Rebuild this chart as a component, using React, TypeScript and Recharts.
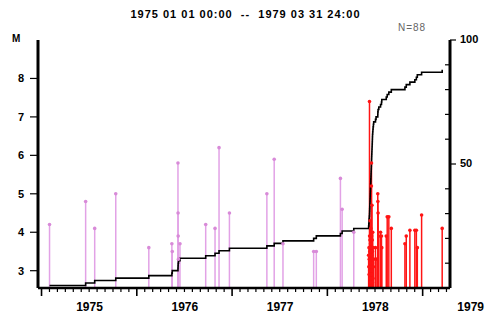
import { ComposedChart, Scatter, Line, XAxis, YAxis, ErrorBar } from "recharts"

const title = "1975 01 01 00:00  --  1979 03 31 24:00"
const countLabel = "N=88"
const magLabel = "M"

const yearTicks = [1975, 1976, 1977, 1978, 1979]
const magTicks = [3, 4, 5, 6, 7, 8]
const countTicks = [10, 20, 30, 40, 50, 60, 70, 80, 90, 100]
const countLabels = [50, 100]

// events before the swarm (decimal year, magnitude)
const preTimes = [
  1975.084, 1975.463, 1975.558, 1975.779, 1976.126, 1976.368, 1976.372, 1976.432,
  1976.433, 1976.434, 1976.437, 1976.453, 1976.723, 1976.821, 1976.863, 1976.972,
  1977.365, 1977.442, 1977.534, 1977.856, 1977.884, 1978.137, 1978.155, 1978.277,
]
const preMags = [
  4.2, 4.8, 4.1, 5.0, 3.6, 3.7, 3.5, 5.8,
  4.5, 3.9, 3.3, 3.7, 4.2, 4.1, 6.2, 4.5,
  5.0, 5.9, 3.7, 3.5, 3.5, 5.4, 4.6, 4.0,
]

// the 1978 swarm
const swarmTimes = [
  1978.433, 1978.435, 1978.437, 1978.438, 1978.44, 1978.442, 1978.443, 1978.444, 1978.445, 1978.446,
  1978.447, 1978.448, 1978.449, 1978.45, 1978.451, 1978.452, 1978.453, 1978.454, 1978.455, 1978.456,
  1978.457, 1978.458, 1978.459, 1978.46, 1978.461, 1978.462, 1978.463, 1978.464, 1978.465, 1978.466,
  1978.467, 1978.468, 1978.469, 1978.47, 1978.471, 1978.472, 1978.473, 1978.474, 1978.476, 1978.478,
  1978.48, 1978.483, 1978.486,
  1978.505, 1978.511, 1978.529, 1978.53, 1978.532, 1978.54, 1978.558, 1978.568, 1978.571, 1978.618,
  1978.628, 1978.645, 1978.671, 1978.814, 1978.828, 1978.866, 1978.918, 1978.934, 1978.944, 1978.989,
  1979.205,
]
const swarmMags = [
  3.4, 3.1, 3.6, 2.9, 3.3, 7.4, 3.9, 3.0, 3.5, 2.8,
  3.8, 3.2, 4.3, 2.7, 3.4, 3.1, 3.7, 2.9, 3.3, 4.1,
  3.0, 3.6, 2.8, 3.5, 3.2, 5.2, 5.8, 3.9, 2.9, 3.4,
  3.1, 4.7, 3.3, 3.0, 3.8, 2.7, 3.5, 3.2, 4.0, 2.8,
  3.6, 3.1, 3.3,
  3.6, 3.3, 5.0, 4.8, 4.5, 3.9, 4.0, 3.9, 3.6, 3.9,
  4.4, 4.4, 4.1, 3.7, 3.9, 4.05, 4.05, 4.05, 3.6, 4.45,
  4.1,
]

const X_DOMAIN: [number, number] = [1974.963, 1979.287]
const M_DOMAIN: [number, number] = [2.55, 9]
const PINK = "#e2a2e6"
const RED = "#ff1414"
const FONT = "'Liberation Sans', Arial, sans-serif"

const monthTicks = yearTicks
  .flatMap((y) => Array.from({ length: 12 }, (_, k) => y + k / 12))
  .filter((v) => v <= X_DOMAIN[1])

const stems = (times: number[], mags: number[]) =>
  times.map((t, i) => ({ t, m: mags[i], err: [mags[i] - M_DOMAIN[0], 0] }))

const preData = stems(preTimes, preMags)
const swarmData = stems(swarmTimes, swarmMags)

const cumData = [...preTimes, ...swarmTimes]
  .sort((a, b) => a - b)
  .map((t, i) => ({ t, n: i + 1 }))

const dotShape = (color: string) => (props: any) =>
  <circle cx={props.cx} cy={props.cy} r={1.8} fill={color} />

const BottomTick = ({ x, y, payload }: any) => {
  const v = payload.value
  const major = Math.abs(v - Math.round(v)) < 1e-6
  return (
    <g>
      <line x1={x} x2={x} y1={y} y2={y + (major ? 8 : 4)} stroke="#000" strokeWidth={major ? 1.6 : 1.2} />
      {major && (
        <text x={x + 48} y={y + 20} textAnchor="middle" dominantBaseline="middle"
          style={{ fontSize: 12, fontWeight: 700, fontFamily: FONT }} fill="#000">
          {Math.round(v)}
        </text>
      )}
    </g>
  )
}

const RightTick = ({ x, y, payload }: any) => {
  const v = payload.value
  if (countLabels.includes(v)) {
    return (
      <g>
        <line x1={x} x2={x + 6} y1={y} y2={y} stroke="#000" strokeWidth={1.2} />
        <text x={x + 10} y={y} dominantBaseline="middle"
          style={{ fontSize: 11, fontWeight: 700, fontFamily: FONT }} fill="#000">
          {v}
        </text>
      </g>
    )
  }
  return <line x1={x} x2={x - 5} y1={y} y2={y} stroke="#000" strokeWidth={1.2} />
}

export default function App() {
  return (
    <div style={{ position: "absolute", left: 0, top: 0, width: 491, height: 320, background: "#fff", fontFamily: FONT }}>
      <div style={{ position: "absolute", left: 0, width: 491, top: 8, textAlign: "center", fontSize: 11, fontWeight: 700, letterSpacing: 1, whiteSpace: "pre" }}>
        {title}
      </div>
      <div style={{ position: "absolute", left: 398, top: 22, fontSize: 10, color: "#666", letterSpacing: 1 }}>{countLabel}</div>
      <div style={{ position: "absolute", left: 12, top: 33, fontSize: 10, fontWeight: 700 }}>{magLabel}</div>
      <ComposedChart width={491} height={320} margin={{ top: 40, right: 0, bottom: 0, left: 0 }}>
        <XAxis xAxisId="top" orientation="top" type="number" domain={X_DOMAIN} allowDataOverflow
          tick={false} tickLine={false} height={0} axisLine={{ stroke: "#000", strokeWidth: 2 }} />
        <XAxis xAxisId="main" type="number" dataKey="t" domain={X_DOMAIN} allowDataOverflow
          ticks={monthTicks} interval={0} tick={<BottomTick />} tickLine={false} tickSize={0} tickMargin={0}
          height={32} axisLine={{ stroke: "#000", strokeWidth: 2.5 }} />
        <YAxis yAxisId="m" dataKey="m" type="number" domain={M_DOMAIN} allowDataOverflow ticks={magTicks}
          width={38} tickSize={8} tickMargin={6} interval={0}
          tick={{ fontSize: 11, fontWeight: 700, fill: "#000", fontFamily: FONT }}
          tickLine={{ stroke: "#000", strokeWidth: 1.2 }} axisLine={{ stroke: "#000", strokeWidth: 3 }} />
        <YAxis yAxisId="n" orientation="right" dataKey="n" type="number" domain={[0, 100]} allowDataOverflow
          ticks={countTicks} interval={0} width={41} tick={<RightTick />} tickLine={false} tickSize={0} tickMargin={0}
          axisLine={{ stroke: "#000", strokeWidth: 3 }} />
        <Scatter xAxisId="main" yAxisId="m" data={preData} dataKey="m" shape={dotShape("#d88ad8")} isAnimationActive={false}>
          <ErrorBar dataKey="err" direction="y" width={0} stroke={PINK} strokeWidth={1.5} isAnimationActive={false} />
        </Scatter>
        <Scatter xAxisId="main" yAxisId="m" data={swarmData} dataKey="m" shape={dotShape(RED)} isAnimationActive={false}>
          <ErrorBar dataKey="err" direction="y" width={0} stroke={RED} strokeWidth={1.5} isAnimationActive={false} />
        </Scatter>
        <Line xAxisId="main" yAxisId="n" data={cumData} dataKey="n" type="stepAfter" stroke="#000" strokeWidth={1.6}
          dot={false} activeDot={false} isAnimationActive={false} />
      </ComposedChart>
    </div>
  )
}
